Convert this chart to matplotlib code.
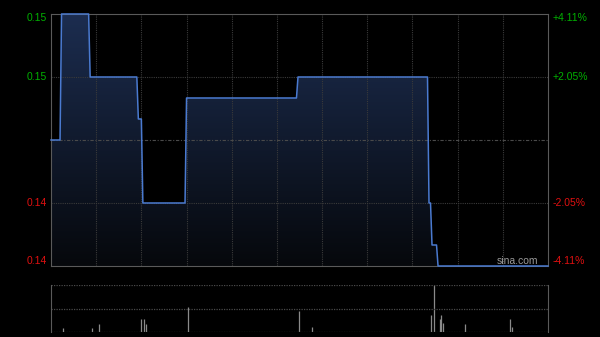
import numpy as np
import matplotlib
matplotlib.use("Agg")
import matplotlib.pyplot as plt
from matplotlib.patches import Polygon

plt.rcParams['font.family'] = ['Liberation Sans', 'DejaVu Sans']

# intraday minute data, HK session 9:30-12:00 + 13:00-16:00 = 330 minutes
prev_close = 0.146
# price steps: minute where the level starts, level
step_start = [0, 7, 26, 58, 61, 90, 164, 251, 253, 257]
step_price = [0.146, 0.152, 0.149, 0.147, 0.143, 0.148, 0.149, 0.143, 0.141, 0.140]
n_minutes = 331

# volume bars (minute index, relative volume)
vol_minute = [8, 27, 32, 60, 62, 63, 91, 165, 173, 252, 254, 258, 259, 260, 275, 305, 306]
vol_value = [4, 4, 8, 13, 13, 8, 25, 21, 5, 17, 47, 13, 17, 9, 8, 13, 5]

left_labels = ['0.15', '0.15', '0.14', '0.14']
right_labels = ['+4.11%', '+2.05%', '-2.05%', '-4.11%']
label_prices = [0.152, 0.149, 0.143, 0.140]

# expand the step levels to one price per minute
price = np.empty(n_minutes)
bounds = step_start + [n_minutes]
for i in range(len(step_price)):
    price[bounds[i]:bounds[i + 1]] = step_price[i]
x = np.arange(n_minutes)

fig = plt.figure(figsize=(6, 3.37), dpi=100, facecolor='black')
ax = fig.add_axes([0.085, 0.2107, 0.8283, 0.7478])
axv = fig.add_axes([0.085, 0.0148, 0.8283, 0.1395])

lo, hi = 0.140, 0.152
ax.set_facecolor('black')
ax.set_xlim(0, n_minutes - 1)
ax.set_ylim(lo, hi)

# gradient fill under the line
grad = np.linspace(0, 1, 256).reshape(-1, 1)
top_c = np.array([28, 45, 80]) / 255
bot_c = np.array([6, 8, 12]) / 255
img = top_c * grad[..., None] + bot_c * (1 - grad[..., None])
im = ax.imshow(img, extent=[0, n_minutes - 1, lo, hi], origin='lower',
               aspect='auto', zorder=1)
poly = Polygon(np.column_stack([np.r_[x, x[-1], 0], np.r_[price, lo, lo]]),
               closed=True, transform=ax.transData, facecolor='none', edgecolor='none')
ax.add_patch(poly)
im.set_clip_path(poly)

# grid
for m in range(30, 330, 30):
    ax.axvline(m, color='#3a3a3a', lw=0.8, ls=(0, (1, 1)), zorder=2)
for p in [0.149, 0.143]:
    ax.axhline(p, color='#3a3a3a', lw=0.8, ls=(0, (1, 1)), zorder=2)
ax.axhline(prev_close, color='#4a4a4a', lw=0.8, ls=(0, (3, 1.5, 1, 1.5)), zorder=2)

ax.plot(x, price, color='#4a7ad0', lw=1.1, zorder=3, clip_on=False)

for s in ax.spines.values():
    s.set_color('#5a5a5a')
ax.set_xticks([])
ax.set_yticks([])

# axis labels drawn as text so the end ones sit inside the frame
span = hi - lo
for lab, rlab, p in zip(left_labels, right_labels, label_prices):
    if p == hi:
        yy = p - span * 0.016
    elif p == lo:
        yy = p + span * 0.02
    else:
        yy = p
    c = '#00b000' if p > prev_close else '#e01010'
    ax.text(-0.008, yy, lab, transform=ax.get_yaxis_transform(), ha='right',
            va='center', color=c, fontsize=7.5)
    ax.text(1.01, yy, rlab, transform=ax.get_yaxis_transform(), ha='left',
            va='center', color=c, fontsize=7.5)

ax.text(0.98, lo + span * 0.02, 'sina.com', transform=ax.get_yaxis_transform(),
        ha='right', va='center', color='#9a9a9a', fontsize=7.5)

# volume panel
axv.set_facecolor('black')
axv.set_xlim(0, n_minutes - 1)
vmax = max(vol_value)
axv.set_ylim(0, vmax)
axv.vlines(vol_minute, 0, vol_value, color='#8a8a8a', lw=0.9)
for v in [0, vmax / 2, vmax]:
    axv.axhline(v, color='#4a4a4a', lw=0.9, ls=(0, (1, 1)))
axv.spines['top'].set_visible(False)
axv.spines['bottom'].set_visible(False)
axv.spines['left'].set_color('#5a5a5a')
axv.spines['right'].set_color('#5a5a5a')
axv.set_xticks([])
axv.set_yticks([])

fig.savefig('out.png', dpi=100, facecolor='black')
